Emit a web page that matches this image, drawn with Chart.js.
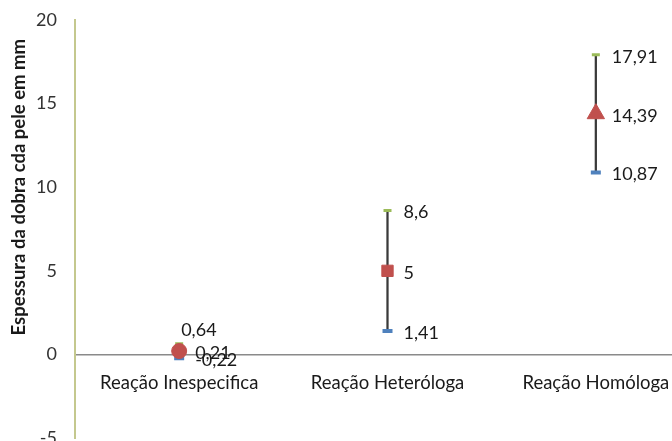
<!DOCTYPE html>
<html>
<head>
<meta charset="utf-8">
<script src="https://cdn.jsdelivr.net/npm/chart.js@4.4.1/dist/chart.umd.min.js"></script>
<style>
  html, body { margin: 0; padding: 0; background: #fff; overflow: hidden; }
  #wrap { width: 711px; height: 476px; margin-top: -9px; position: relative; }
</style>
</head>
<body>
<div id="wrap"><canvas id="c"></canvas></div>
<script>
// Espessura da dobra da pele por tipo de reação (média com limites superior e inferior)
const categories = ['Reação Inespecifica', 'Reação Heteróloga', 'Reação Homóloga'];
const upperValues = [0.64, 8.6, 17.91];
const meanValues = [0.21, 5, 14.39];
const lowerValues = [-0.22, 1.41, 10.87];
const yTicks = [-5, 0, 5, 10, 15, 20];
const meanShapes = ['circle', 'rect', 'triangle'];
const yTitle = 'Espessura da dobra cda pele em mm';

const FONT = 'Lato, "Open Sans", sans-serif';
const fmt = v => String(v).replace('.', ',');

// Value labels beside each marker
const valueLabels = {
  id: 'valueLabels',
  afterDatasetsDraw(chart) {
    const ctx = chart.ctx;
    ctx.save();
    ctx.font = '18px ' + FONT;
    ctx.fillStyle = '#1a1a1a';
    ctx.textBaseline = 'middle';
    ctx.textAlign = 'left';
    [1, 2, 3].forEach(di => {
      const meta = chart.getDatasetMeta(di);
      const ds = chart.data.datasets[di];
      meta.data.forEach((pt, i) => {
        let x = pt.x + 16, y = pt.y + 2;
        // first upper label sits above the crowded marker group
        if (di === 1 && i === 0) { x = pt.x + 2; y = pt.y - 14; }
        ctx.fillText(fmt(ds.data[i]), x, y);
      });
    });
    ctx.restore();
  }
};

// Rotated y-axis title, centred on the upper part of the value range
const axisTitle = {
  id: 'axisTitle',
  afterDraw(chart) {
    const ctx = chart.ctx;
    const y = chart.scales.y;
    const cy = (y.getPixelForValue(20) + y.getPixelForValue(0)) / 2;
    ctx.save();
    ctx.translate(19, cy);
    ctx.rotate(-Math.PI / 2);
    ctx.font = 'bold 18.5px ' + FONT;
    ctx.fillStyle = '#1a1a1a';
    ctx.textAlign = 'center';
    ctx.textBaseline = 'middle';
    ctx.fillText(yTitle, 0, 0);
    ctx.restore();
  }
};

new Chart(document.getElementById('c'), {
  data: {
    labels: categories,
    datasets: [
      {
        type: 'bar',
        data: lowerValues.map((lo, i) => [lo, upperValues[i]]),
        backgroundColor: '#3a3a3a',
        barThickness: 1.6,
        order: 10
      },
      {
        type: 'line',
        data: upperValues,
        showLine: false,
        pointStyle: 'line',
        pointRadius: 4,
        borderWidth: 3,
        borderColor: '#9BBB59',
        pointBorderColor: '#9BBB59',
        order: 2
      },
      {
        type: 'line',
        data: meanValues,
        showLine: false,
        pointStyle: meanShapes,
        pointRadius: [7.5, 8, 10],
        pointBackgroundColor: '#C0504D',
        pointBorderColor: '#C0504D',
        borderWidth: 1,
        order: 1
      },
      {
        type: 'line',
        data: lowerValues,
        showLine: false,
        pointStyle: 'line',
        pointRadius: 5,
        borderWidth: 4,
        borderColor: '#4F81BD',
        pointBorderColor: '#4F81BD',
        order: 3
      }
    ]
  },
  options: {
    responsive: true,
    maintainAspectRatio: false,
    animation: false,
    layout: { padding: { top: 10, bottom: 5, left: 0, right: 0 } },
    plugins: { legend: { display: false }, tooltip: { enabled: false } },
    scales: {
      x: {
        type: 'category',
        position: { y: 0 },
        offset: true,
        grid: { display: false, drawTicks: false },
        border: { display: true, color: '#8a8a8a', width: 1.5 },
        ticks: { color: '#1a1a1a', font: { family: FONT, size: 18.5 }, padding: 17, maxRotation: 0, autoSkip: false }
      },
      y: {
        min: -5,
        max: 20,
        afterBuildTicks(scale) { scale.ticks = yTicks.map(v => ({ value: v })); },
        afterFit(scale) { scale.width = 75; },
        grid: { display: false, drawTicks: false },
        border: { display: true, color: '#C4C88E', width: 2 },
        ticks: { color: '#333', font: { family: FONT, size: 18 }, padding: 18 },
        title: { display: false }
      }
    }
  },
  plugins: [valueLabels, axisTitle]
});
</script>
</body>
</html>
